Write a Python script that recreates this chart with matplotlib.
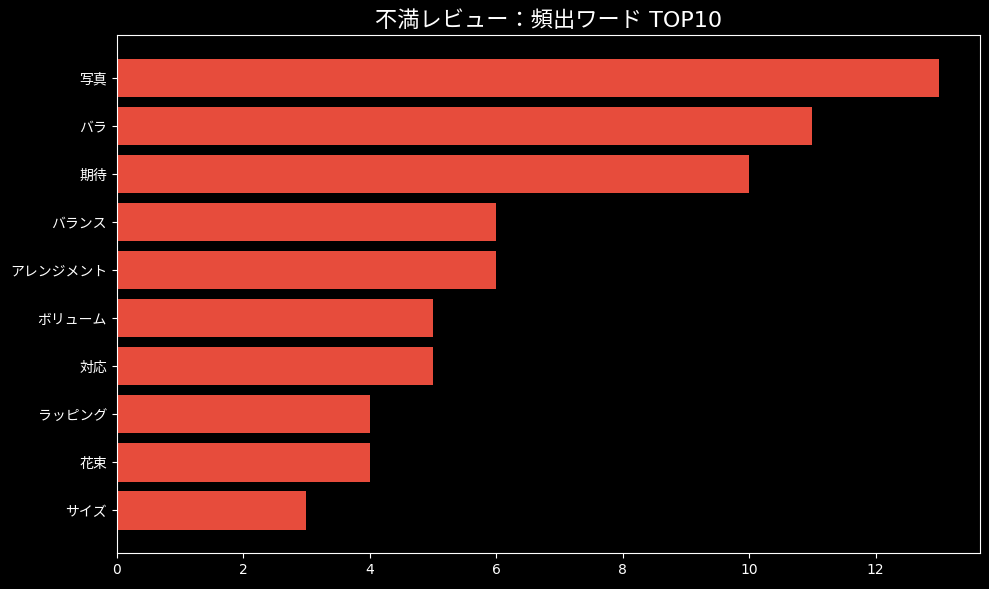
import matplotlib
import matplotlib.pyplot as plt

matplotlib.use('Agg')

words = ['写真', 'バラ', '期待', 'バランス', 'アレンジメント',
         'ボリューム', '対応', 'ラッピング', '花束', 'サイズ']
counts = [13, 11, 10, 6, 6, 5, 5, 4, 4, 3]

plt.style.use('dark_background')
plt.rcParams['font.family'] = ['DejaVu Sans', 'Noto Sans CJK JP']

fig, ax = plt.subplots(figsize=(9.89, 5.89), dpi=100)
ax.barh(words[::-1], counts[::-1], color='#e74c3c')
ax.set_title('不満レビュー：頻出ワード TOP10', fontsize=16)
fig.subplots_adjust(left=0.118, right=0.991, top=0.94, bottom=0.061)
fig.savefig('out.png', dpi=100)
plt.close(fig)
